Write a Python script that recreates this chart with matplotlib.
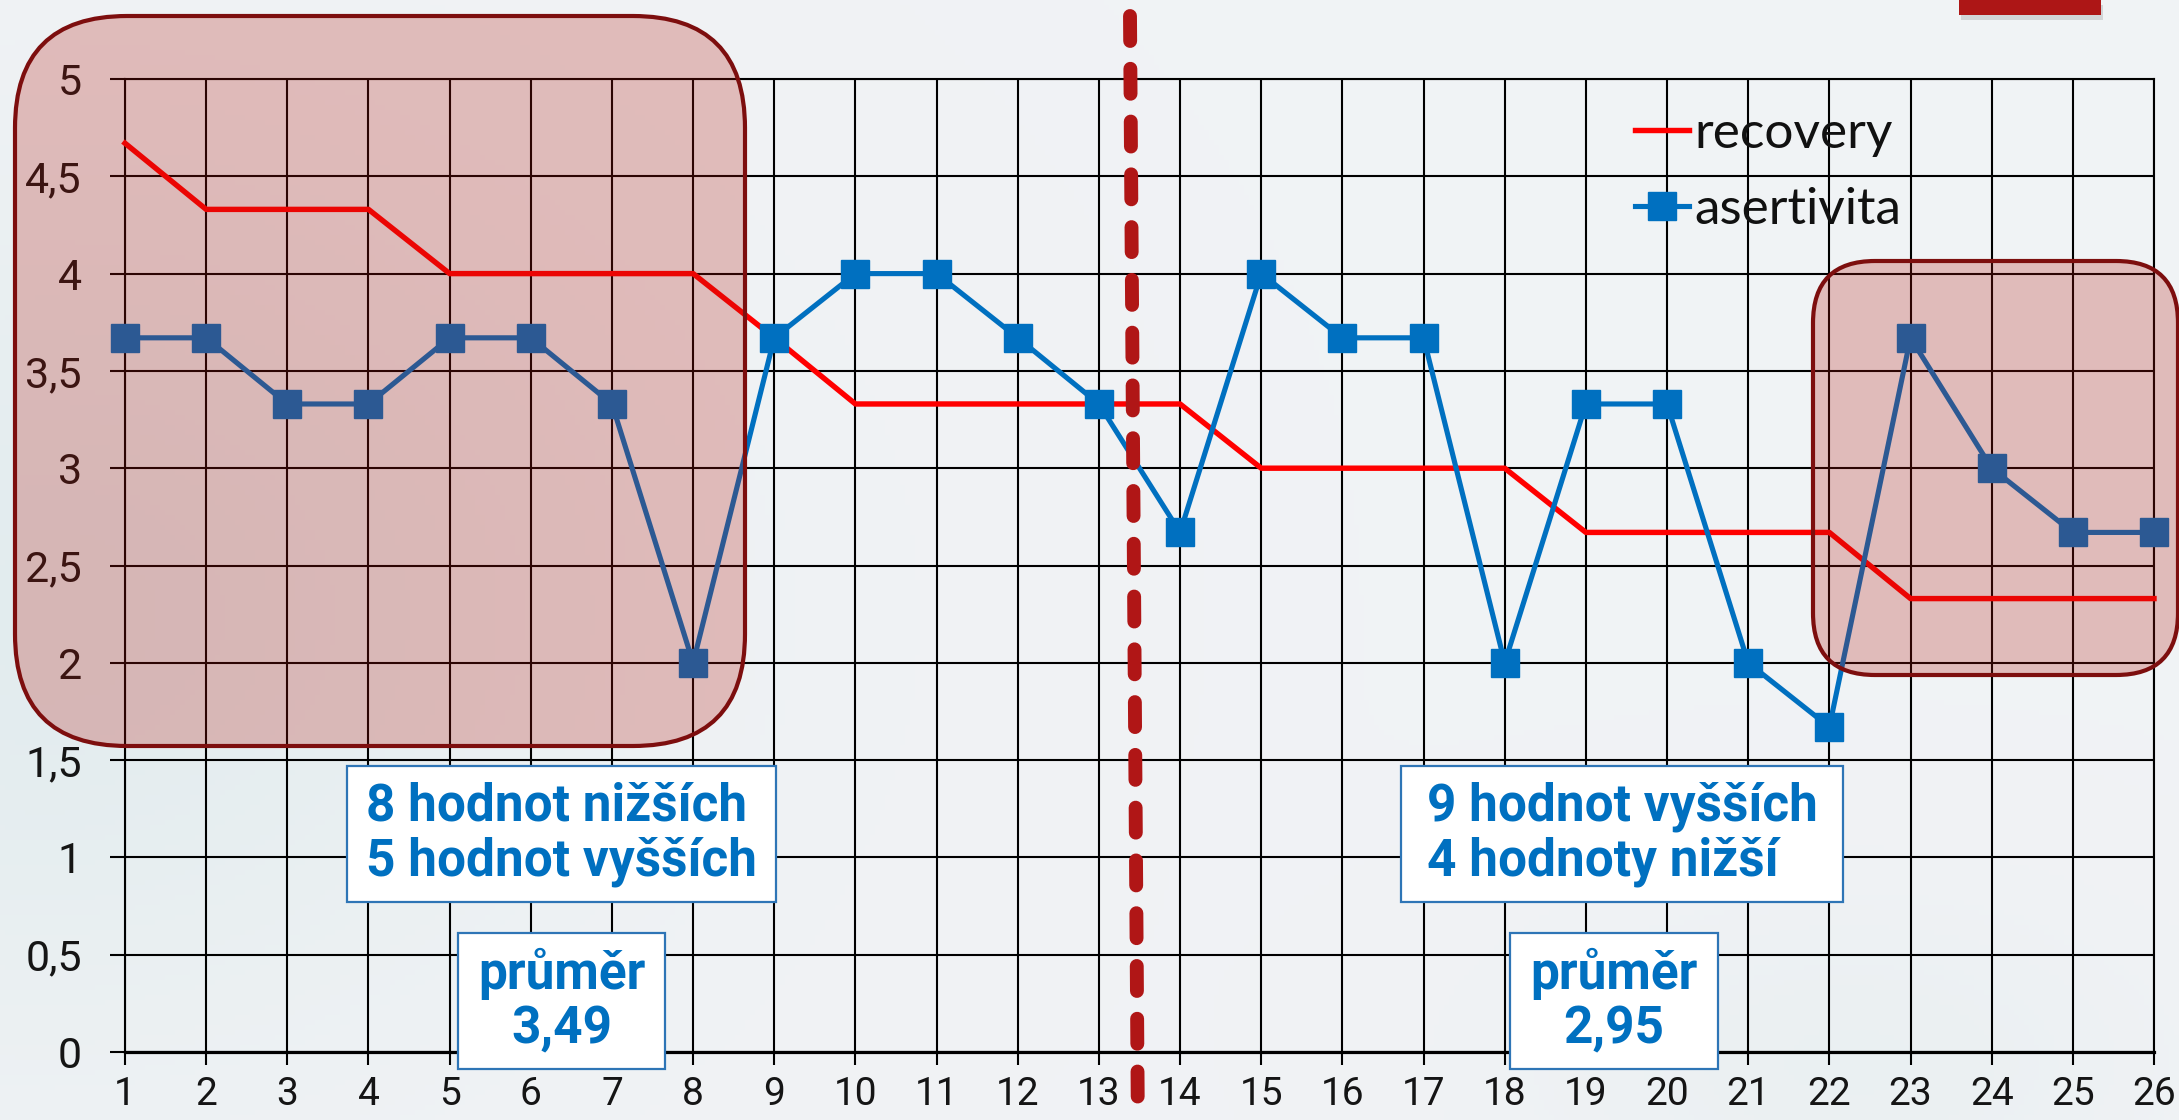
import numpy as np
import matplotlib
matplotlib.use("Agg")
import matplotlib.pyplot as plt
from matplotlib.patches import FancyBboxPatch, Rectangle

# ---------------- data ----------------
x = list(range(1, 27))
x_labels = [str(i) for i in x]
recovery = [4.67, 4.33, 4.33, 4.33, 4.0, 4.0, 4.0, 4.0, 3.67, 3.33, 3.33, 3.33, 3.33,
            3.33, 3.0, 3.0, 3.0, 3.0, 2.67, 2.67, 2.67, 2.67, 2.33, 2.33, 2.33, 2.33]
asertivita = [3.67, 3.67, 3.33, 3.33, 3.67, 3.67, 3.33, 2.0, 3.67, 4.0, 4.0, 3.67, 3.33,
              2.67, 4.0, 3.67, 3.67, 2.0, 3.33, 3.33, 2.0, 1.67, 3.67, 3.0, 2.67, 2.67]
y_ticks = [0, 0.5, 1, 1.5, 2, 2.5, 3, 3.5, 4, 4.5, 5]
y_labels = ["0", "0,5", "1", "1,5", "2", "2,5", "3", "3,5", "4", "4,5", "5"]
series_names = ["recovery", "asertivita"]
box_texts = ["8 hodnot nižších\n5 hodnot vyšších", "průměr\n3,49",
             "9 hodnot vyšších\n4 hodnoty nižší", "průměr\n2,95"]

# ---------------- layout ----------------
W, H = 2179, 1120
fig = plt.figure(figsize=(W / 100, H / 100), dpi=100)

TICK_FONT = ["Roboto", "DejaVu Sans"]
BOX_FONT = ["Roboto", "DejaVu Sans"]
LEG_FONT = ["Lato", "DejaVu Sans"]

# background gradient
bg = fig.add_axes([0, 0, 1, 1], zorder=-10)
gy, gx = np.mgrid[0:1:224j, 0:1:436j]
base = np.array([0.945, 0.953, 0.961])
tint = np.array([0.875, 0.92, 0.93])
w = 0.8 * np.exp(-((gx - 0.02) ** 2 / 0.06 + (gy - 0.55) ** 2 / 0.14))
w += 0.35 * np.exp(-((gx - 0.85) ** 2 / 0.02 + (gy - 0.95) ** 2 / 0.02))
w = np.clip(w, 0, 1)[..., None]
img = base * (1 - w) + tint * w
bg.imshow(img, aspect="auto", extent=[0, 1, 0, 1], origin="upper")
bg.set_axis_off()

ax_l, ax_r, ax_t, ax_b = 125, 2154, 79, 1052
ax = fig.add_axes([ax_l / W, (H - ax_b) / H, (ax_r - ax_l) / W, (ax_b - ax_t) / H])
ax.set_facecolor("none")
ax.set_xlim(1, 26)
ax.set_ylim(0, 5)
px_x = (ax_r - ax_l) / 25.0
px_y = (ax_b - ax_t) / 5.0


def dx(px):
    return 1 + (px - ax_l) / px_x


def dy(py):
    return (ax_b - py) / px_y


ax.set_xticks(x)
ax.set_xticklabels(x_labels, fontfamily=TICK_FONT, fontsize=28, fontweight="normal",
                   color="#151515")
ax.set_yticks(y_ticks)
ax.set_yticklabels(y_labels, fontfamily=TICK_FONT, fontsize=31, fontweight="normal",
                   color="#151515")
ax.grid(True, color="black", linewidth=1.5)
ax.set_axisbelow(True)
for s in ax.spines.values():
    s.set_color("black")
    s.set_linewidth(1.5)
ax.spines["bottom"].set_linewidth(2.3)
ax.tick_params(axis="x", direction="out", length=9, width=1.5, pad=8)
ax.tick_params(axis="y", direction="out", length=11, width=1.5, pad=20)

ax.plot(x, recovery, color="#FF0000", lw=3.9, zorder=3, clip_on=False,
        label=series_names[0])
ax.plot(x, asertivita, color="#0070C0", lw=3.7, marker="s", markersize=20,
        zorder=3.5, clip_on=False, label=series_names[1])

leg = ax.legend(loc="center left", bbox_to_anchor=(1635 / W, 1 - 172 / H),
                bbox_transform=fig.transFigure, frameon=False,
                prop={"family": LEG_FONT, "size": 37},
                handlelength=1.05, handletextpad=0.1, labelspacing=0.58,
                borderpad=0, borderaxespad=0)
for t in leg.get_texts():
    t.set_color("#111111")
leg.set_zorder(8)


# rounded highlight rectangles
def rounded(p0, p1, r_px):
    x0, x1 = dx(p0[0]), dx(p1[0])
    y0, y1 = dy(p1[1]), dy(p0[1])
    patch = FancyBboxPatch((x0, y0), x1 - x0, y1 - y0,
                           boxstyle=f"round,pad=0,rounding_size={r_px / px_x}",
                           mutation_aspect=px_x / px_y,
                           facecolor=(0.70, 0.09, 0.05, 0.25), edgecolor="#7D0E0E",
                           lw=3, clip_on=False, zorder=4)
    ax.add_patch(patch)


rounded((15, 16), (745, 746), 112)
rounded((1813, 261), (2178, 675), 62)

# dashed split line
ax.plot([dx(1130), dx(1138)], [dy(16), dy(1140)], color="#B01616", lw=10,
        dashes=(1.8, 2.0), dash_capstyle="round", clip_on=False, zorder=5)

# text boxes
boxes = [((347, 766), (776, 902)), ((458, 933), (665, 1069)),
         ((1401, 766), (1843, 902)), ((1510, 933), (1718, 1069))]
for (p0, p1), txt in zip(boxes, box_texts):
    x0, x1 = dx(p0[0]), dx(p1[0])
    y0, y1 = dy(p1[1]), dy(p0[1])
    ax.add_patch(Rectangle((x0, y0), x1 - x0, y1 - y0, facecolor="white",
                           edgecolor="#2E75B6", lw=1.6, clip_on=False, zorder=6))
    ax.text((x0 + x1) / 2, (y0 + y1) / 2, txt, ha="center", va="center",
            multialignment="left" if "hodno" in txt else "center",
            color="#0070C0", fontsize=37, fontweight="bold", fontfamily=BOX_FONT,
            linespacing=1.12, zorder=7, clip_on=False)

# small red bar at top right
fig.add_artist(Rectangle((1961 / W, 1 - 20 / H), 142 / W, 15 / H,
                         transform=fig.transFigure, color="#000000", alpha=0.12,
                         lw=0, zorder=-5))
fig.add_artist(Rectangle((1959 / W, 1 - 15 / H), 142 / W, 15 / H,
                         transform=fig.transFigure, color="#AD1616", lw=0))

fig.savefig("out.png", dpi=100)
